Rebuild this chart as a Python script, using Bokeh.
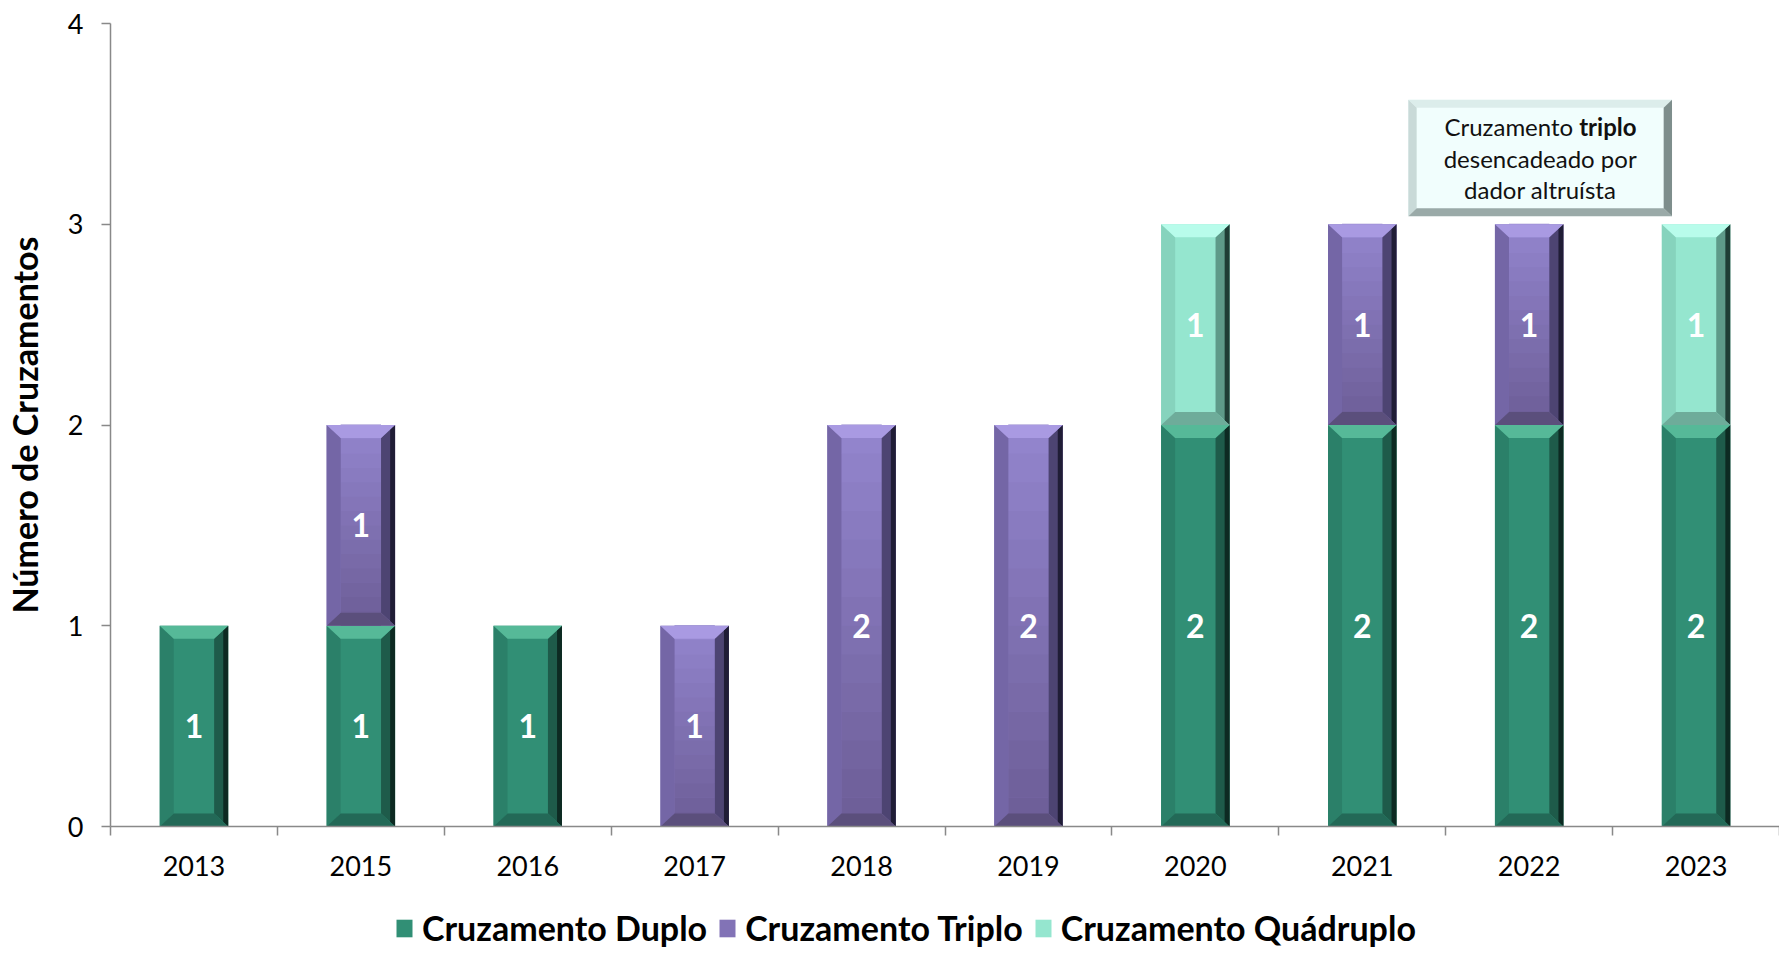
import numpy as np
from bokeh.plotting import figure
from bokeh.layouts import column
from bokeh.models import ColumnDataSource, FixedTicker, Legend, LegendItem, Range1d, Spacer
from bokeh.core.properties import value
from bokeh.embed import file_html
from bokeh.resources import INLINE

# ---------------- data ----------------
years = ["2013", "2015", "2016", "2017", "2018", "2019", "2020", "2021", "2022", "2023"]
duplo = [1, 1, 1, 0, 0, 0, 2, 2, 2, 2]
triplo = [0, 1, 0, 1, 2, 2, 0, 1, 1, 0]
quadruplo = [0, 0, 0, 0, 0, 0, 1, 0, 0, 1]
series_names = ["Cruzamento Duplo", "Cruzamento Triplo", "Cruzamento Quádruplo"]
y_ticks = [0, 1, 2, 3, 4]
y_title = "Número de Cruzamentos"
note_year = "2022"
note_line1 = ("Cruzamento", "triplo")
note_lines = ["desencadeado por", "dador altruísta"]

# ---------------- styles ----------------
FONT = "Lato"
palette = [
    # face, top, left, right, outer-right, bottom
    dict(face="#318F75", top="#56B998", left="#2B8069", right="#1E5B4A", outer="#0D2A22", bottom="#236957"),
    dict(face="#8273B6", top="#A99AE2", left="#7466A6", right="#4D4472", outer="#201D36", bottom="#5B4F7C"),
    dict(face="#95E6CF", top="#B8FCEB", left="#86D3BD", right="#5E9A89", outer="#1F3D35", bottom="#6EAC9A"),
]
BAR_W = 0.41
HW = BAR_W / 2
DX = 0.084
DY = 0.065

W = 1779
TOP_PAD = 7
H_MAIN = 900
H_LEG = 948 - TOP_PAD - H_MAIN
n = len(years)
p = figure(width=W, height=H_MAIN, output_backend="svg", toolbar_location=None,
           x_range=Range1d(0, n), y_range=Range1d(0, 4),
           min_border_left=102, min_border_right=0, min_border_top=16, min_border_bottom=81)
p.xgrid.visible = False
p.ygrid.visible = False
p.outline_line_color = None
p.background_fill_color = "white"
p.border_fill_color = "white"

xs_center = [i + 0.5 for i in range(n)]
series = [duplo, triplo, quadruplo]
bottoms = np.zeros(n)
labels_x, labels_y, labels_t = [], [], []

for si, vals in enumerate(series):
    vals = np.array(vals, dtype=float)
    tops = bottoms + vals
    col = palette[si]
    src = ColumnDataSource(dict(x=xs_center, bottom=list(bottoms), top=list(tops)))
    p.vbar(x="x", bottom="bottom", top="top", width=BAR_W, source=src,
           fill_color=col["face"], line_color=None)
    polys = {"top": ([], []), "bottom": ([], []), "left": ([], []), "right": ([], []), "outer": ([], [])}
    for i in range(n):
        if vals[i] <= 0:
            continue
        c, b, t = xs_center[i], bottoms[i], tops[i]
        L, R = c - HW, c + HW
        polys["top"][0].append([L, R, R - DX, L + DX]); polys["top"][1].append([t, t, t - DY, t - DY])
        polys["bottom"][0].append([L, R, R - DX, L + DX]); polys["bottom"][1].append([b, b, b + DY, b + DY])
        polys["left"][0].append([L, L, L + DX, L + DX]); polys["left"][1].append([b, t, t - DY, b + DY])
        polys["right"][0].append([R, R, R - DX, R - DX]); polys["right"][1].append([b, t, t - DY, b + DY])
        polys["outer"][0].append([R - DX * 0.35, R, R, R - DX * 0.35]); polys["outer"][1].append([b + DY * 0.35, b, t, t - DY * 0.35])
        labels_x.append(c)
        labels_y.append((b + t) / 2)
        labels_t.append(str(int(vals[i])))
    if si == 1:
        nb = 14
        c0 = np.array([0x92, 0x84, 0xCC]); c1 = np.array([0x6E, 0x5F, 0x99])
        for i in range(n):
            if vals[i] <= 0:
                continue
            c, b, t = xs_center[i], bottoms[i], tops[i]
            hb = (t - b) / nb
            for k in range(nb):
                f = k / (nb - 1)
                cc = c1 + (c0 - c1) * f
                p.quad(left=c - HW + DX, right=c + HW - DX, bottom=b + k * hb, top=b + (k + 1) * hb + 0.002,
                       fill_color="#%02x%02x%02x" % tuple(int(v) for v in cc), line_color=None)
    for key in ["left", "right", "outer", "bottom", "top"]:
        xs_, ys_ = polys[key]
        if xs_:
            p.patches(xs=xs_, ys=ys_, fill_color=col[key], line_color=None)
    bottoms = tops

p.text(x=labels_x, y=labels_y, text=labels_t, text_color="white", text_font=value(FONT),
       text_font_style="bold", text_font_size="32px", text_align="center", text_baseline="middle")

# ---------------- annotation box ----------------
ci = years.index(note_year) + 0.5 + 0.066
bx0, bx1 = ci - 0.79, ci + 0.79
by0, by1 = 3.04, 3.62
bdx, bdy = 0.05, 0.04
p.quad(left=bx0, right=bx1, bottom=by0, top=by1, fill_color="#F1FEFD", line_color=None)
p.patches(xs=[[bx0, bx1, bx1 - bdx, bx0 + bdx]], ys=[[by1, by1, by1 - bdy, by1 - bdy]], fill_color="#DCEDEB", line_color=None)
p.patches(xs=[[bx0, bx0, bx0 + bdx, bx0 + bdx]], ys=[[by0, by1, by1 - bdy, by0 + bdy]], fill_color="#C9DAD8", line_color=None)
p.patches(xs=[[bx0, bx1, bx1 - bdx, bx0 + bdx]], ys=[[by0, by0, by0 + bdy, by0 + bdy]], fill_color="#9AAAA8", line_color=None)
p.patches(xs=[[bx1, bx1, bx1 - bdx, bx1 - bdx]], ys=[[by0, by1, by1 - bdy, by0 + bdy]], fill_color="#7E8E8C", line_color=None)
bcy = (by0 + by1) / 2
lh = 0.158
p.text(x=[ci], y=[bcy + lh], text=[note_line1[0]], x_offset=33, text_color="#111111", text_font=value(FONT),
       text_font_size="24px", text_align="right", text_baseline="middle")
p.text(x=[ci], y=[bcy + lh], text=[note_line1[1]], x_offset=39, text_color="#111111", text_font=value(FONT),
       text_font_style="bold", text_font_size="24px", text_align="left", text_baseline="middle")
p.text(x=[ci, ci], y=[bcy, bcy - lh], text=note_lines, text_color="#111111", text_font=value(FONT),
       text_font_size="24px", text_align="center", text_baseline="middle")

# ---------------- axes ----------------
AX = "#898989"
yax = p.yaxis[0]
yax.ticker = FixedTicker(ticks=y_ticks, minor_ticks=[])
yax.axis_line_color = AX
yax.axis_line_width = 1.5
yax.major_tick_line_color = AX
yax.major_tick_line_width = 1.5
yax.major_tick_out = 9
yax.major_tick_in = 0
yax.minor_tick_line_color = None
yax.major_label_text_font = FONT
yax.major_label_text_font_size = "27px"
yax.major_label_text_color = "black"
yax.major_label_standoff = 18
yax.axis_label = y_title
yax.axis_label_text_font = FONT
yax.axis_label_text_font_style = "bold"
yax.axis_label_text_font_size = "34px"
yax.axis_label_text_color = "black"
yax.axis_label_standoff = 20

xax = p.xaxis[0]
xax.ticker = FixedTicker(ticks=xs_center, minor_ticks=list(range(n + 1)))
xax.major_label_overrides = {xs_center[i]: years[i] for i in range(n)}
xax.axis_line_color = AX
xax.axis_line_width = 1.5
xax.major_tick_line_color = None
xax.major_tick_out = 0
xax.major_tick_in = 0
xax.minor_tick_line_color = AX
xax.minor_tick_line_width = 1.5
xax.minor_tick_out = 9
xax.minor_tick_in = 0
xax.major_label_text_font = FONT
xax.major_label_text_font_size = "27px"
xax.major_label_text_color = "black"
xax.major_label_standoff = 20

# ---------------- legend strip ----------------
pl = figure(width=W, height=H_LEG, output_backend="svg", toolbar_location=None,
            x_range=Range1d(0, 1), y_range=Range1d(0, 1), min_border=0,
            x_axis_location=None, y_axis_location=None)
pl.grid.visible = False
pl.outline_line_color = None
items = []
for si, name in enumerate(series_names):
    rr = pl.vbar(x=[0.5], bottom=[-3], top=[-2], width=0.1, fill_color=palette[si]["face"], line_color=None)
    items.append(LegendItem(label=name, renderers=[rr]))
legend = Legend(items=items, orientation="horizontal", location=(284, 0),
                glyph_width=20, glyph_height=22, label_text_font=FONT, label_text_font_style="bold",
                label_text_font_size="34px", label_text_color="black", label_standoff=8, spacing=10,
                padding=0, margin=0, border_line_color=None, background_fill_alpha=0)
pl.add_layout(legend, "center")

layout = column(Spacer(width=W, height=TOP_PAD), p, pl, spacing=0)
open("out.html", "w").write(file_html(layout, INLINE))
